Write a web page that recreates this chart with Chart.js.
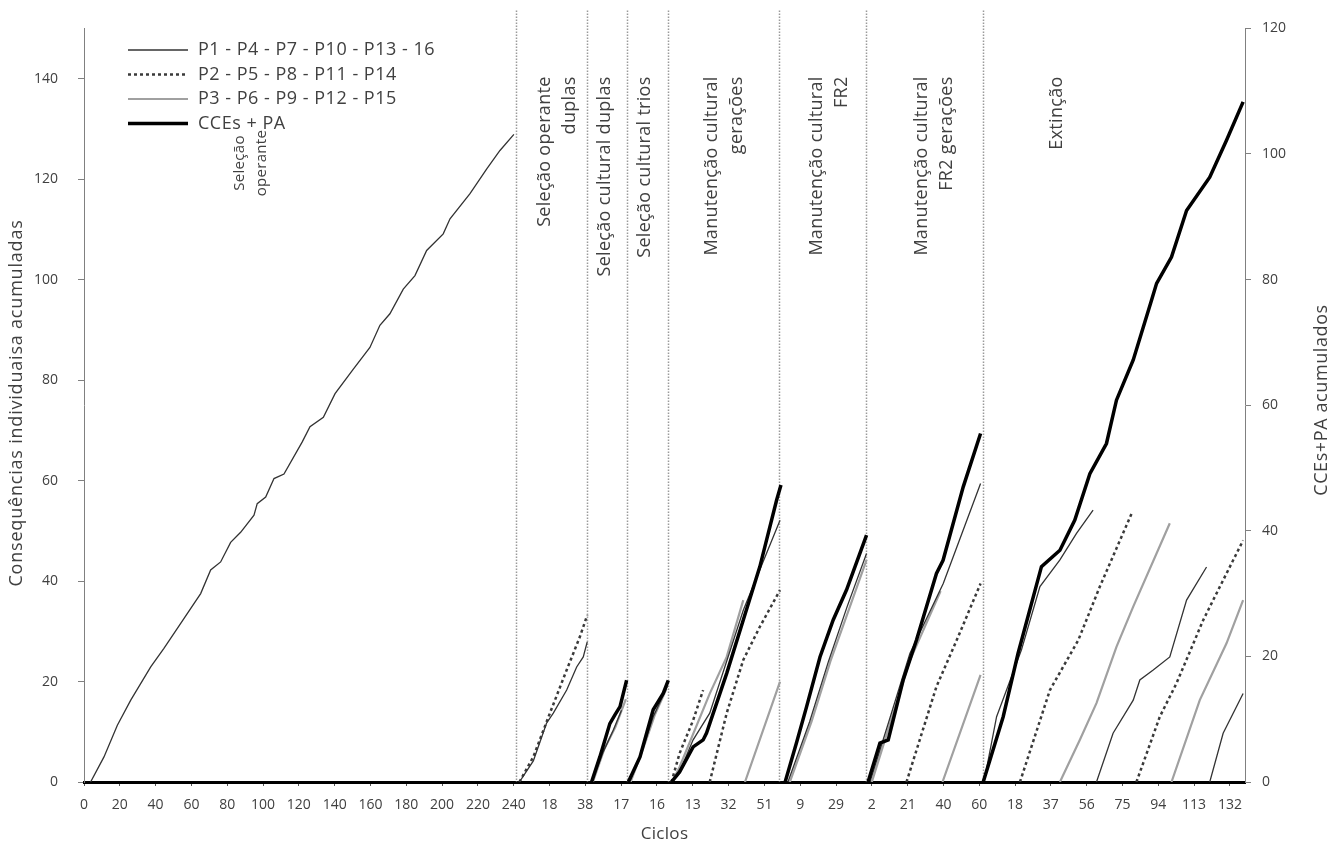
<!DOCTYPE html>
<html>
<head>
<meta charset="utf-8">
<script src="https://cdn.jsdelivr.net/npm/chart.js@4/dist/chart.umd.min.js"></script>
<style>
  html, body { margin: 0; padding: 0; background: #fff; }
  canvas { display: block; }
</style>
</head>
<body>
<canvas id="chart" width="1339" height="844"></canvas>
<script>
/* ---------- Data ---------- */
// x = running cycle index across all phases, y = accumulated count
const xMax = 616;
const labelStep = 19;
const tickLabels = ['0', '20', '40', '60', '80', '100', '120', '140', '160', '180', '200', '220', '240',
    '18', '38', '17', '16', '13', '32', '51', '9', '29', '2', '21', '40', '60',
    '18', '37', '56', '75', '94', '113', '132'];
const leftTicks = [0, 20, 40, 60, 80, 100, 120, 140];
const rightTicks = [0, 20, 40, 60, 80, 100, 120];

// phase borders (cycle index)
const phaseBounds = [229, 267, 288, 310, 369, 415, 477];
const phaseTitles = [
    ['Seleção', 'operante'],
    ['Seleção operante', 'duplas'],
    ['Seleção cultural duplas'],
    ['Seleção cultural trios'],
    ['Manutenção cultural', 'gerações'],
    ['Manutenção cultural', 'FR2'],
    ['Manutenção cultural', 'FR2 gerações'],
    ['Extinção']
];
const phaseTitleX = [82.8, 244.6, 276.4, 297.6, 333.2, 388.9, 444.6, 516.2];

const legendNames = ['P1 - P4 - P7 - P10 - P13 - 16', 'P2 - P5 - P8 - P11 - P14', 'P3 - P6 - P9 - P12 - P15', 'CCEs + PA'];

// P1 - P4 - P7 ... (left axis)
const p1Segments = [
    [[3.5, 0], [10.6, 5], [17.7, 11.3], [24.8, 16.3], [35.4, 22.9], [42.4, 26.6], [53, 32.5], [61.9, 37.5],
     [67.2, 42.2], [72.5, 43.8], [77.8, 47.7], [83.1, 49.7], [90.2, 53.1], [91.9, 55.4], [96.4, 56.7],
     [100.8, 60.4], [106.1, 61.3], [115.8, 67.7], [119.9, 70.7], [127, 72.6], [133.2, 77.3], [142.9, 82.2],
     [151.7, 86.5], [157, 90.9], [162.3, 93.2], [169.4, 98.1], [175.6, 100.8], [181.8, 105.8], [190.6, 109.1],
     [194.2, 112.1], [204.8, 117.1], [213.6, 122], [220.7, 125.7], [228.1, 128.9]],
    [[231, 0], [238.4, 4.2], [245.4, 11.7], [249, 13.7], [256.1, 18.3], [261.4, 22.9], [264.9, 24.9], [267, 27.9]],
    [[269.5, 0], [275.5, 6], [280.8, 10.3], [285.2, 14.3]],
    [[289.5, 0], [296, 6], [302, 13], [309.5, 19]],
    [[312, 0], [316, 2], [323.2, 8.4], [332, 13.7], [349.8, 34.2], [369.3, 52.1]],
    [[373.5, 0], [385, 12], [395, 24], [405, 35], [415.2, 45.5]],
    [[417, 0], [427, 12], [438.2, 25.6], [455.9, 39.5], [475.7, 59.4]],
    [[477.5, 0], [484.2, 13], [497.4, 26.3], [507.2, 38.9], [517.8, 44.2], [526.6, 49.5], [535.4, 54.1]],
    [[537.2, 0], [546, 9.7], [556.7, 16.3], [560.2, 20.3], [567.3, 22.3], [576.1, 24.9], [585, 36.2], [595.6, 42.8]],
    [[597.3, 0], [604.4, 9.7], [615, 17.6]]
];

// P2 - P5 - P8 ... (left axis)
const p2Segments = [
    [[231, 0], [238.4, 5], [247.2, 13.7], [256.1, 22.3], [263.1, 28.9], [267, 33.2]],
    [[311.7, 0], [316, 5.7], [323.2, 12.3], [328.5, 18.3]],
    [[332, 0], [341, 13.7], [349.8, 24.3], [358.6, 30.9], [369.3, 38.2]],
    [[436.4, 0], [452.3, 19], [463, 28.2], [475.7, 39.5]],
    [[496.6, 0], [512.5, 18.3], [527.5, 28.2], [539, 38.9], [555.8, 53.4]],
    [[558.4, 0], [570.8, 13], [579.6, 19.6], [593.8, 32.2], [599.1, 36.2], [615, 48.1]]
];

// P3 - P6 - P9 ... (left axis)
const p3Segments = [
    [[270, 0], [276, 6.5], [282, 11], [287.5, 16.5]],
    [[290, 0], [297, 7], [303, 13.5], [309, 18.5]],
    [[312, 0], [316, 3], [332, 17.6], [341, 24.9], [349.8, 36.2]],
    [[350.7, 0], [369.3, 20]],
    [[374.5, 0], [386, 12], [396, 24], [406, 34.5], [415.2, 44.2]],
    [[418, 0], [438, 24], [454.5, 38]],
    [[455.5, 0], [475.7, 21.3]],
    [[517.8, 0], [528.4, 8.4], [537.2, 15.7], [547.8, 26.9], [556.7, 34.9], [576.1, 51.5]],
    [[577, 0], [592, 16.3], [606.2, 27.6], [615, 36.2]]
];

// CCEs + PA (right axis)
const cceSegments = [
    [[269.3, 0], [273.7, 4], [279, 9.3], [281.7, 10.7], [284.4, 12], [287.9, 16.2]],
    [[288.8, 0], [295, 4], [302, 11.5], [307.3, 14.1], [310, 16.2]],
    [[311.7, 0], [316, 1.6], [323.2, 5.6], [328.5, 6.7], [330.3, 7.8], [332, 9.3], [341, 17.3],
     [349.8, 25.8], [358.6, 34.3], [367.5, 44.9], [369.8, 47.3]],
    [[372, 0], [378, 6.2], [383.4, 12], [390.5, 19.9], [397.5, 25.8], [404.6, 30.6], [415.2, 39.3]],
    [[416, 0], [422.3, 6.2], [426.7, 6.7], [434.6, 16.2], [441.7, 22.6], [452.3, 33.2], [455.8, 35.3],
     [466.5, 47], [475.7, 55.5]],
    [[477.1, 0], [487.7, 10.4], [495.6, 20.5], [508, 34.3], [517.8, 36.9], [525.7, 41.7], [533.7, 49.1],
     [542.5, 53.9], [547.8, 60.8], [556.7, 67.2], [566.4, 76.7], [569.1, 79.4], [577, 83.6], [585, 91],
     [597.3, 96.3], [606.2, 102.2], [615, 108.3]]
];

/* ---------- Helpers ---------- */
function toPoints(segments) {
    const pts = [];
    segments.forEach((seg, i) => {
        if (i) pts.push({ x: (pts[pts.length - 1].x + seg[0][0]) / 2, y: null });
        seg.forEach(p => pts.push({ x: p[0], y: p[1] }));
    });
    return pts;
}

const FONT = "'Open Sans', 'Liberation Sans', sans-serif";
const TEXT = '#404040';

const styles = [
    { color: '#333333', width: 1.3, dash: [] },
    { color: '#3a3a3a', width: 2.5, dash: [3, 3] },
    { color: '#a0a0a0', width: 2.2, dash: [] },
    { color: '#000000', width: 3.5, dash: [] }
];

function rotatedText(ctx, text, x, y) {
    ctx.save();
    ctx.translate(x, y);
    ctx.rotate(-Math.PI / 2);
    ctx.fillText(text, 0, 0);
    ctx.restore();
}

/* ---------- Decorations ---------- */
const decor = {
    id: 'decor',
    beforeDatasetsDraw(chart) {
        const { ctx, chartArea, scales } = chart;
        ctx.save();
        ctx.strokeStyle = '#9a9a9a';
        ctx.lineWidth = 1.5;
        ctx.setLineDash([1.5, 1.5]);
        phaseBounds.forEach(b => {
            const x = Math.round(scales.x.getPixelForValue(b)) + 0.5;
            ctx.beginPath();
            ctx.moveTo(x, chartArea.top - 18);
            ctx.lineTo(x, chartArea.bottom);
            ctx.stroke();
        });
        ctx.restore();
    },
    afterDraw(chart) {
        const { ctx, chartArea, scales } = chart;
        ctx.save();
        ctx.fillStyle = TEXT;
        ctx.textBaseline = 'middle';

        // phase titles, rotated
        phaseTitles.forEach((lines, i) => {
            const x0 = scales.x.getPixelForValue(phaseTitleX[i]);
            const first = i === 0;
            ctx.save();
            ctx.translate(x0, first ? 163 : chartArea.top + 48);
            ctx.rotate(-Math.PI / 2);
            ctx.font = (first ? 15 : 18) + 'px ' + FONT;
            ctx.letterSpacing = '0.3px';
            ctx.textAlign = first ? 'center' : 'right';
            lines.forEach((t, k) => ctx.fillText(t, 0, k * (first ? 22 : 25)));
            ctx.restore();
        });

        // legend
        ctx.font = '18px ' + FONT;
        ctx.letterSpacing = '0.5px';
        ctx.textAlign = 'left';
        legendNames.forEach((name, i) => {
            const y = 50 + i * 24.5;
            const s = styles[i];
            ctx.save();
            ctx.strokeStyle = s.color;
            ctx.lineWidth = s.width;
            ctx.setLineDash(s.dash);
            ctx.beginPath();
            ctx.moveTo(128, y);
            ctx.lineTo(188, y);
            ctx.stroke();
            ctx.restore();
            ctx.fillText(name, 198, y);
        });

        // axis titles
        ctx.textAlign = 'center';
        ctx.font = '17px ' + FONT;
        ctx.letterSpacing = '0.3px';
        ctx.fillText('Ciclos', (chartArea.left + chartArea.right) / 2, 834);
        ctx.font = '18px ' + FONT;
        ctx.letterSpacing = '0.8px';
        rotatedText(ctx, 'Consequências individuaisa acumuladas', 17, 403);
        ctx.letterSpacing = '0.6px';
        rotatedText(ctx, 'CCEs+PA acumulados', 1322, 400);
        ctx.restore();
    }
};

/* ---------- Chart ---------- */
const groups = [cceSegments, p1Segments, p2Segments, p3Segments];
const styleIdx = [3, 0, 1, 2];

const datasets = groups.map((segs, i) => {
    const s = styles[styleIdx[i]];
    return {
        label: legendNames[styleIdx[i]],
        data: toPoints(segs),
        yAxisID: styleIdx[i] === 3 ? 'y2' : 'y',
        borderColor: s.color,
        borderWidth: s.width,
        borderDash: s.dash,
        pointRadius: 0,
        tension: 0,
        spanGaps: false,
        fill: false
    };
});

new Chart(document.getElementById('chart'), {
    type: 'line',
    data: { datasets: datasets },
    options: {
        responsive: false,
        animation: false,
        devicePixelRatio: 1,
        layout: { padding: { top: 28, left: 0, right: 0, bottom: 0 } },
        plugins: { legend: { display: false }, tooltip: { enabled: false } },
        scales: {
            x: {
                type: 'linear',
                min: 0,
                max: xMax,
                afterBuildTicks: scale => { scale.ticks = tickLabels.map((_, i) => ({ value: i * labelStep })); },
                afterFit: scale => { scale.height = 62; },
                ticks: {
                    autoSkip: false,
                    maxRotation: 0,
                    padding: 11,
                    color: TEXT,
                    font: { family: FONT, size: 14 },
                    callback: (v, i) => tickLabels[i]
                },
                grid: { drawOnChartArea: false, tickLength: 4, color: '#555' },
                border: { color: '#000', width: 3 }
            },
            y: {
                position: 'left',
                min: 0,
                max: 150,
                afterBuildTicks: scale => { scale.ticks = leftTicks.map(v => ({ value: v })); },
                afterFit: scale => { scale.width = 84; },
                ticks: { padding: 20, color: TEXT, font: { family: FONT, size: 14 } },
                grid: { drawOnChartArea: false, tickLength: 6, color: '#808080' },
                border: { color: '#808080', width: 1 }
            },
            y2: {
                position: 'right',
                min: 0,
                max: 120,
                afterBuildTicks: scale => { scale.ticks = rightTicks.map(v => ({ value: v })); },
                afterFit: scale => { scale.width = 94; },
                ticks: { padding: 11, color: TEXT, font: { family: FONT, size: 14 } },
                grid: { drawOnChartArea: false, tickLength: 6, color: '#808080' },
                border: { color: '#808080', width: 1 }
            }
        }
    },
    plugins: [decor]
});
</script>
</body>
</html>
